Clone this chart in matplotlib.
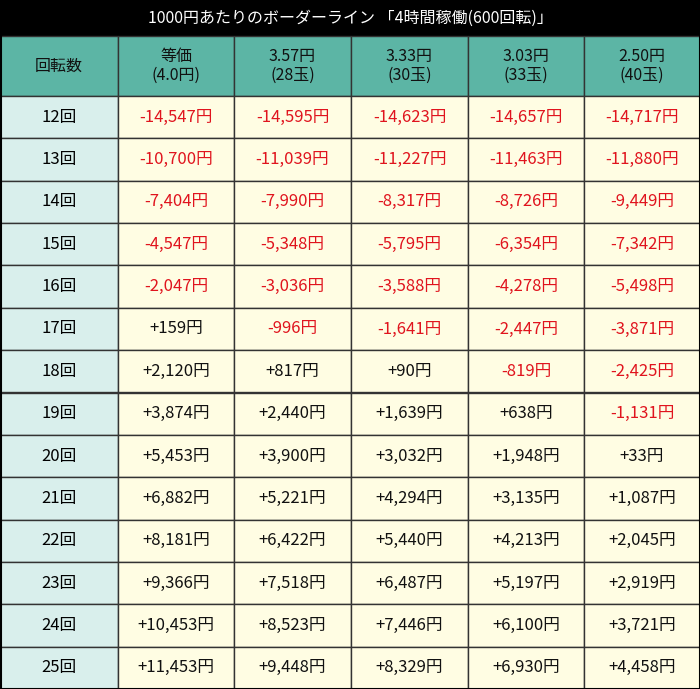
import matplotlib.pyplot as plt
from matplotlib.patches import Rectangle

plt.rcParams['font.family'] = ['Noto Sans CJK JP', 'DejaVu Sans']

title = "1000円あたりのボーダーライン 「4時間稼働(600回転)」"
headers = ["回転数", "等価\n(4.0円)", "3.57円\n(28玉)", "3.33円\n(30玉)", "3.03円\n(33玉)", "2.50円\n(40玉)"]
spins = [12, 13, 14, 15, 16, 17, 18, 19, 20, 21, 22, 23, 24, 25]
rate_40 = [-14547, -10700, -7404, -4547, -2047, 159, 2120, 3874, 5453, 6882, 8181, 9366, 10453, 11453]
rate_357 = [-14595, -11039, -7990, -5348, -3036, -996, 817, 2440, 3900, 5221, 6422, 7518, 8523, 9448]
rate_333 = [-14623, -11227, -8317, -5795, -3588, -1641, 90, 1639, 3032, 4294, 5440, 6487, 7446, 8329]
rate_303 = [-14657, -11463, -8726, -6354, -4278, -2447, -819, 638, 1948, 3135, 4213, 5197, 6100, 6930]
rate_250 = [-14717, -11880, -9449, -7342, -5498, -3871, -2425, -1131, 33, 1087, 2045, 2919, 3721, 4458]
columns = [rate_40, rate_357, rate_333, rate_303, rate_250]

W, H = 700, 689
title_h, head_h = 36, 60
row_h = (H - title_h - head_h) / len(spins)
col_x = [0, 118, 234, 351, 468, 584, 700]

fig = plt.figure(figsize=(7, 6.89), dpi=100)
ax = fig.add_axes([0, 0, 1, 1])
ax.set_xlim(0, W)
ax.set_ylim(H, 0)
ax.axis('off')

line_c = '#333333'
ax.add_patch(Rectangle((0, 0), W, title_h, color='black'))
ax.text(W / 2, title_h / 2, title, color='white', ha='center', va='center', fontsize=11.5)

for j, h in enumerate(headers):
    x0, x1 = col_x[j], col_x[j + 1]
    ax.add_patch(Rectangle((x0, title_h), x1 - x0, head_h, facecolor='#5cb5a5', edgecolor=line_c, lw=1))
    ax.text((x0 + x1) / 2, title_h + head_h / 2, h, ha='center', va='center',
            fontsize=11.5, linespacing=1.1, color='#111111')

for i, s in enumerate(spins):
    y0 = title_h + head_h + i * row_h
    ax.add_patch(Rectangle((0, y0), col_x[1], row_h, facecolor='#d9efec', edgecolor=line_c, lw=1))
    ax.text(col_x[1] / 2, y0 + row_h / 2, f"{s}回", ha='center', va='center', fontsize=12)
    for j, col in enumerate(columns):
        x0, x1 = col_x[j + 1], col_x[j + 2]
        ax.add_patch(Rectangle((x0, y0), x1 - x0, row_h, facecolor='#fffde3', edgecolor=line_c, lw=1))
        v = col[i]
        txt = f"{v:+,}円"
        ax.text((x0 + x1) / 2, y0 + row_h / 2, txt, ha='center', va='center', fontsize=12,
                color='#e0141e' if v < 0 else '#111111')

ax.add_patch(Rectangle((0.5, 0.5), W - 1, H - 1, fill=False, edgecolor='black', lw=1.5))
fig.savefig('out.png', dpi=100)
